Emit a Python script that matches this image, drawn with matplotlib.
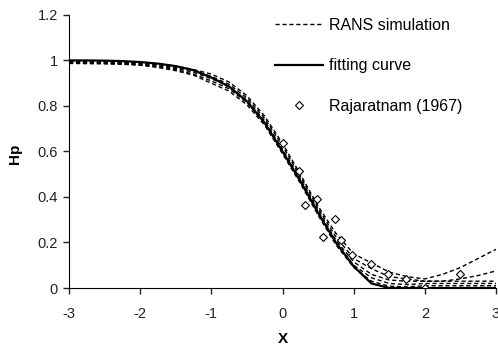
import matplotlib
matplotlib.use("Agg")
import matplotlib.pyplot as plt

plt.rcParams['font.family'] = ['Liberation Sans', 'DejaVu Sans']
plt.rcParams['axes.unicode_minus'] = False

# common x grid for the curves
x_grid = [-3, -2.75, -2.5, -2.25, -2, -1.75, -1.5, -1.25, -1, -0.75, -0.5, -0.25,
          0, 0.25, 0.5, 0.75, 1, 1.25, 1.5, 1.75, 2, 2.25, 2.5, 2.75, 3]

# fitting curve
fit_hp = [1.0, 1.0, 0.999, 0.997, 0.993, 0.986, 0.975, 0.957, 0.925, 0.885, 0.82, 0.725,
          0.60, 0.47, 0.33, 0.20, 0.095, 0.02, 0.0, 0.0, 0.0, 0.0, 0.0, 0.0, 0.0]

# RANS simulation curves
rans_1 = [0.995, 0.994, 0.993, 0.992, 0.99, 0.985, 0.975, 0.96, 0.94, 0.905, 0.845, 0.755,
          0.635, 0.50, 0.36, 0.24, 0.15, 0.11, 0.07, 0.05, 0.04, 0.06, 0.09, 0.13, 0.17]
rans_2 = [0.993, 0.992, 0.991, 0.99, 0.987, 0.981, 0.97, 0.955, 0.93, 0.895, 0.835, 0.745,
          0.625, 0.49, 0.35, 0.225, 0.13, 0.085, 0.05, 0.04, 0.03, 0.03, 0.04, 0.055, 0.075]
rans_3 = [0.991, 0.99, 0.989, 0.987, 0.984, 0.977, 0.965, 0.948, 0.92, 0.885, 0.825, 0.735,
          0.61, 0.48, 0.34, 0.21, 0.115, 0.06, 0.035, 0.03, 0.03, 0.03, 0.03, 0.03, 0.03]
rans_4 = [0.989, 0.988, 0.987, 0.985, 0.981, 0.973, 0.96, 0.94, 0.91, 0.875, 0.815, 0.725,
          0.60, 0.47, 0.33, 0.20, 0.10, 0.045, 0.02, 0.015, 0.02, 0.02, 0.02, 0.02, 0.02]
rans_5 = [0.987, 0.986, 0.985, 0.983, 0.979, 0.969, 0.955, 0.935, 0.90, 0.865, 0.805, 0.715,
          0.59, 0.46, 0.32, 0.19, 0.09, 0.03, 0.008, 0.005, 0.01, 0.01, 0.01, 0.01, 0.01]
rans_curves = [rans_1, rans_2, rans_3, rans_4, rans_5]

# Rajaratnam (1967) data
raj_x = [0.0, 0.23, 0.31, 0.48, 0.57, 0.74, 0.82, 0.98, 1.24, 1.48, 1.73, 2.0, 2.49]
raj_hp = [0.637, 0.515, 0.363, 0.39, 0.222, 0.305, 0.209, 0.147, 0.104, 0.062, 0.04, 0.0, 0.062]

fig = plt.figure(figsize=(4.98, 3.47), dpi=100)
ax = fig.add_axes([0.1386, 0.170, 0.8574, 0.787])

for i, curve in enumerate(rans_curves):
    ax.plot(x_grid, curve, color='black', lw=1.0, linestyle=(0, (3, 2)),
            label='RANS simulation' if i == 0 else None)
ax.plot(x_grid, fit_hp, color='black', lw=1.6, label='fitting curve')
ax.plot(raj_x, raj_hp, linestyle='none', marker='D', markersize=4.5,
        markerfacecolor='white', markeredgecolor='black', markeredgewidth=0.8,
        label='Rajaratnam (1967)')

ax.set_xlim(-3, 3)
ax.set_ylim(0, 1.2)
ax.set_xticks([-3, -2, -1, 0, 1, 2, 3])
ax.set_yticks([0, 0.2, 0.4, 0.6, 0.8, 1.0, 1.2])
ax.set_yticklabels(['0', '0.2', '0.4', '0.6', '0.8', '1', '1.2'])
ax.spines['top'].set_visible(False)
ax.spines['right'].set_visible(False)
ax.tick_params(axis='both', direction='out', length=4, width=1, labelsize=10.5, colors='#222222')
ax.tick_params(axis='x', pad=10)
ax.tick_params(axis='y', pad=4)

ax.set_xlabel('X', fontsize=11, fontweight='bold')
ax.set_ylabel('Hp', fontsize=11, fontweight='bold')
ax.xaxis.set_label_coords(0.5, -0.16)
ax.yaxis.set_label_coords(-0.11, 0.49)

ax.legend(loc='upper left', bbox_to_anchor=(0.482, 0.99), frameon=False,
          fontsize=11.5, handlelength=3.0, handletextpad=0.4, labelspacing=1.6,
          borderpad=0, borderaxespad=0, numpoints=1)

fig.savefig('out.png', dpi=100)
